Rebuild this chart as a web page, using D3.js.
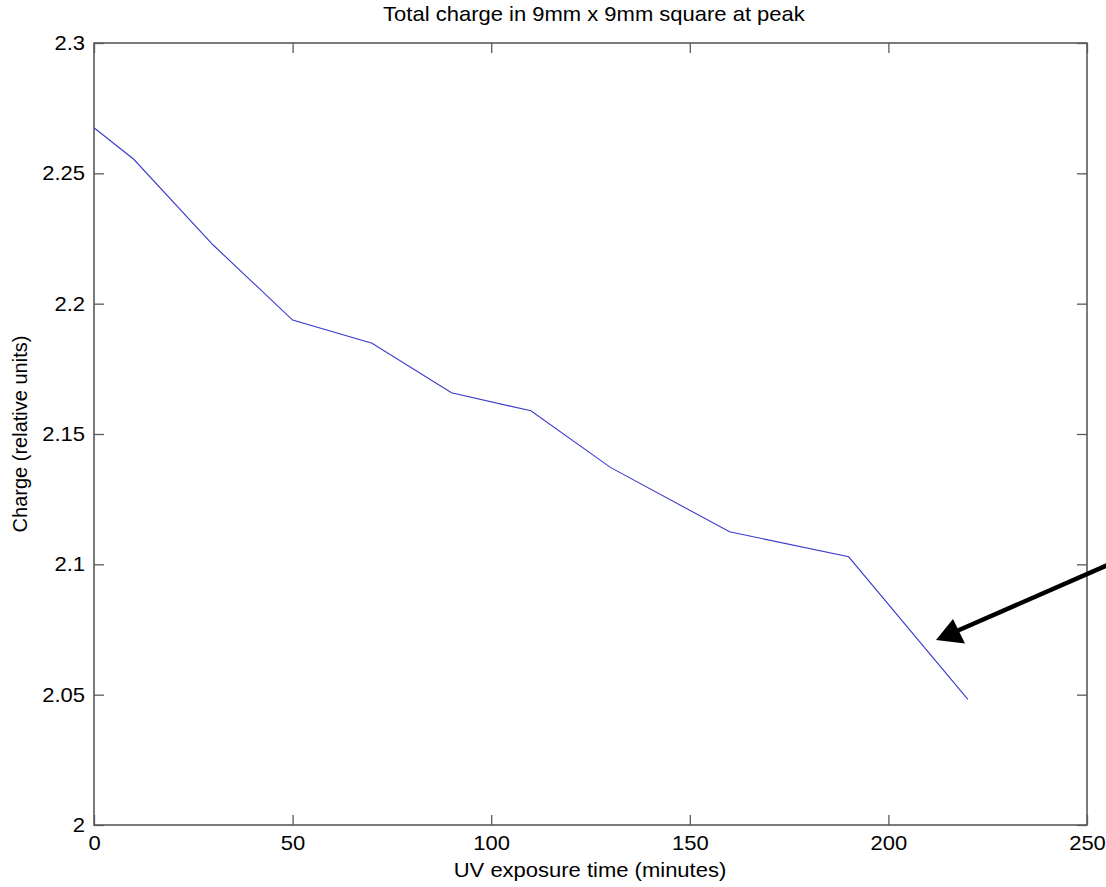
<!DOCTYPE html>
<html>
<head>
<meta charset="utf-8">
<script src="https://cdn.jsdelivr.net/npm/d3@7"></script>
<style>
  html, body { margin: 0; padding: 0; background: #fff; }
  svg { display: block; }
  text { font-family: "Liberation Sans", Arial, sans-serif; fill: #000; }
  .wide { transform-box: fill-box; transform: scaleX(1.1); }
  .wide-c { transform-origin: center center; }
  .wide-r { transform-origin: right center; }
</style>
</head>
<body>
<svg id="chart" width="1106" height="887"></svg>
<script>
// UV exposure time (minutes) and measured charge (relative units)
const exposureMinutes = [0, 10, 30, 50, 70, 90, 110, 130, 160, 190, 220];
const chargeValues = [2.2675, 2.2554, 2.2225, 2.1937, 2.1848, 2.1658, 2.1589, 2.1372, 2.1125, 2.1029, 2.0482];

const xTicks = [0, 50, 100, 150, 200, 250];
const yTicks = [2, 2.05, 2.1, 2.15, 2.2, 2.25, 2.3];
const yTickLabels = ["2", "2.05", "2.1", "2.15", "2.2", "2.25", "2.3"];

const titleText = "Total charge in 9mm x 9mm square at peak";
const xLabelText = "UV exposure time (minutes)";
const yLabelText = "Charge (relative units)";

const svg = d3.select("#chart");
const plot = { left: 94, top: 43, right: 1087, bottom: 825 };

const x = d3.scaleLinear().domain([0, 250]).range([plot.left, plot.right]);
const y = d3.scaleLinear().domain([2, 2.3]).range([plot.bottom, plot.top]);

const axisColor = "#5a5a5a";
const tickLen = 10;
const fontSize = "20px";

// Axes box with inward ticks on all four sides
function styleAxis(g, cls) {
  g.select(".domain").remove();
  g.selectAll(".tick line").attr("stroke", axisColor).attr("stroke-width", 1.3);
  g.selectAll(".tick text")
    .attr("class", cls)
    .style("font-family", '"Liberation Sans", Arial, sans-serif')
    .style("font-size", fontSize)
    .attr("fill", "#000");
}

svg.append("g")
  .attr("transform", `translate(0,${plot.bottom})`)
  .call(d3.axisBottom(x).tickValues(xTicks).tickFormat(d3.format("d"))
    .tickSizeInner(-tickLen).tickSizeOuter(0).tickPadding(11))
  .call(styleAxis, "wide wide-c");

svg.append("g")
  .attr("transform", `translate(0,${plot.top})`)
  .call(d3.axisTop(x).tickValues(xTicks).tickFormat("")
    .tickSizeInner(-tickLen).tickSizeOuter(0))
  .call(styleAxis, "");

svg.append("g")
  .attr("transform", `translate(${plot.left},0)`)
  .call(d3.axisLeft(y).tickValues(yTicks).tickFormat((d, i) => yTickLabels[i])
    .tickSizeInner(-tickLen).tickSizeOuter(0).tickPadding(9))
  .call(styleAxis, "wide wide-r");

svg.append("g")
  .attr("transform", `translate(${plot.right},0)`)
  .call(d3.axisRight(y).tickValues(yTicks).tickFormat("")
    .tickSizeInner(-tickLen).tickSizeOuter(0))
  .call(styleAxis, "");

svg.append("rect")
  .attr("x", plot.left).attr("y", plot.top)
  .attr("width", plot.right - plot.left).attr("height", plot.bottom - plot.top)
  .attr("fill", "none").attr("stroke", axisColor).attr("stroke-width", 1.6);

// Data line
const line = d3.line()
  .x((d, i) => x(exposureMinutes[i]))
  .y(d => y(d));

svg.append("path")
  .datum(chargeValues)
  .attr("d", line)
  .attr("fill", "none")
  .attr("stroke", "#3a3acc")
  .attr("stroke-width", 1.1);

// Annotation arrow pointing at the last segment
const arrowTip = [936, 640];
const arrowTail = [1110, 564];
svg.append("line")
  .attr("x1", arrowTail[0]).attr("y1", arrowTail[1])
  .attr("x2", 958).attr("y2", 630.5)
  .attr("stroke", "#000").attr("stroke-width", 4.5);
svg.append("path")
  .attr("d", `M${arrowTip[0]},${arrowTip[1]} L953,619 L965,643.5 Z`)
  .attr("fill", "#000");

// Titles
svg.append("text")
  .attr("class", "wide wide-c")
  .attr("x", 594).attr("y", 21)
  .attr("text-anchor", "middle")
  .style("font-size", fontSize)
  .text(titleText);

svg.append("text")
  .attr("class", "wide wide-c")
  .attr("x", 590).attr("y", 877)
  .attr("text-anchor", "middle")
  .style("font-size", fontSize)
  .text(xLabelText);

svg.append("text")
  .attr("transform", `translate(27,${(plot.top + plot.bottom) / 2}) rotate(-90)`)
  .attr("text-anchor", "middle")
  .style("font-size", fontSize)
  .text(yLabelText);
</script>
</body>
</html>
